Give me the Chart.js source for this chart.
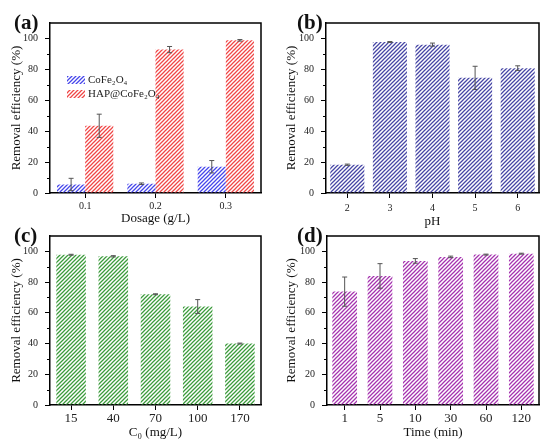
<!DOCTYPE html>
<html lang="en">

<head>
    <meta charset="UTF-8">
    <title>Removal efficiency</title>
    <script src="https://cdn.jsdelivr.net/npm/chart.js"></script>
    <style>
        body {
            margin: 0;
            background: white;
            width: 550px;
            height: 446px;
            position: relative;
            overflow: hidden;
            font-family: 'Liberation Serif', 'DejaVu Serif', serif;
        }

        canvas {
            position: absolute;
        }

        .panel-label {
            position: absolute;
            font-weight: bold;
            font-size: 21px;
            line-height: 1;
            color: #111;
        }
    </style>
</head>

<body>
    <canvas id="chartA" width="275" height="232" style="left:0;top:0"></canvas>
    <canvas id="chartB" width="275" height="232" style="left:275px;top:0"></canvas>
    <canvas id="chartC" width="275" height="223" style="left:0;top:223px"></canvas>
    <canvas id="chartD" width="275" height="223" style="left:275px;top:223px"></canvas>
    <div class="panel-label" style="left:14px;top:12px">(a)</div>
    <div class="panel-label" style="left:297px;top:12px">(b)</div>
    <div class="panel-label" style="left:14px;top:225px">(c)</div>
    <div class="panel-label" style="left:297px;top:225px">(d)</div>
    <script>
        // (a) dosage
        const dosageLabels = ['0.1', '0.2', '0.3'];
        const cofeValues = [5.5, 6, 17];
        const cofeErrors = [4, 0.5, 4];
        const hapValues = [43.5, 92.8, 98.8];
        const hapErrors = [7.5, 2, 0.5];

        // (b) pH
        const phLabels = ['2', '3', '4', '5', '6'];
        const phValues = [18.3, 97.7, 96, 74.5, 80.8];
        const phErrors = [0.4, 0.3, 1, 7.5, 1.5];

        // (c) initial concentration
        const concLabels = ['15', '40', '70', '100', '170'];
        const concValues = [97.8, 96.8, 72.1, 64.1, 40];
        const concErrors = [0.3, 0.4, 0.3, 4.5, 0.3];

        // (d) contact time
        const timeLabels = ['1', '5', '10', '30', '60', '120'];
        const timeValues = [73.8, 84, 93.8, 96.4, 97.9, 98.5];
        const timeErrors = [9.5, 8, 1.5, 0.5, 0.3, 0.3];

        const yTitle = 'Removal efficiency (%)';

        Chart.defaults.font.family = "'Liberation Serif', 'DejaVu Serif', serif";
        Chart.defaults.color = '#222';

        // diagonal hatch fill like the original plot
        function hatch(color) {
            const s = 4;
            const c = document.createElement('canvas');
            c.width = s;
            c.height = s;
            const g = c.getContext('2d');
            g.strokeStyle = color;
            g.lineWidth = 1.25;
            g.beginPath();
            g.moveTo(0, s); g.lineTo(s, 0);
            g.moveTo(-1, 1); g.lineTo(1, -1);
            g.moveTo(s - 1, s + 1); g.lineTo(s + 1, s - 1);
            g.stroke();
            return g.createPattern(c, 'repeat');
        }

        const errorBars = {
            id: 'errorBars',
            afterDatasetsDraw(chart) {
                const ctx = chart.ctx;
                const y = chart.scales.y;
                chart.data.datasets.forEach((ds, i) => {
                    chart.getDatasetMeta(i).data.forEach((bar, j) => {
                        const v = ds.data[j], e = ds.errors[j];
                        const top = y.getPixelForValue(v + e);
                        const bot = y.getPixelForValue(v - e);
                        ctx.save();
                        ctx.strokeStyle = '#555';
                        ctx.lineWidth = 1;
                        ctx.beginPath();
                        ctx.moveTo(bar.x, top); ctx.lineTo(bar.x, bot);
                        ctx.moveTo(bar.x - 2.5, top); ctx.lineTo(bar.x + 2.5, top);
                        ctx.moveTo(bar.x - 2.5, bot); ctx.lineTo(bar.x + 2.5, bot);
                        ctx.stroke();
                        ctx.restore();
                    });
                });
            }
        };

        // box frame + minor y ticks
        const frame = {
            id: 'frame',
            afterDraw(chart) {
                const { ctx, chartArea: a } = chart;
                const y = chart.scales.y;
                ctx.save();
                ctx.strokeStyle = '#000';
                ctx.lineWidth = 1.5;
                ctx.beginPath();
                ctx.moveTo(a.left, a.top); ctx.lineTo(a.right, a.top); ctx.lineTo(a.right, a.bottom);
                ctx.stroke();
                ctx.lineWidth = 1;
                ctx.beginPath();
                for (let v = 10; v < 110; v += 20) {
                    const py = Math.round(y.getPixelForValue(v)) + 0.5;
                    ctx.moveTo(a.left, py); ctx.lineTo(a.left - 3, py);
                }
                ctx.stroke();
                ctx.restore();
            }
        };

        // small legend inside panel (a)
        const innerLegend = {
            id: 'innerLegend',
            afterDraw(chart) {
                const ctx = chart.ctx;
                ctx.save();
                ctx.font = "11px 'Liberation Serif', 'DejaVu Serif', serif";
                ctx.textBaseline = 'middle';
                chart.data.datasets.forEach((ds, i) => {
                    const cy = 80 + i * 14;
                    ctx.fillStyle = ds.backgroundColor;
                    ctx.fillRect(67, cy - 4, 18, 8);
                    ctx.fillStyle = '#222';
                    ctx.fillText(ds.label, 88, cy);
                });
                ctx.restore();
            }
        };

        function makeChart(id, labels, datasets, opt) {
            const axisGrid = {
                drawOnChartArea: false,
                drawTicks: true,
                tickLength: 5,
                offset: false,
                color: '#000',
                tickWidth: 1
            };
            return new Chart(document.getElementById(id), {
                type: 'bar',
                data: { labels: labels, datasets: datasets },
                options: {
                    responsive: false,
                    animation: false,
                    layout: { padding: { top: opt.top, right: opt.right, left: 0, bottom: 0 } },
                    plugins: {
                        legend: { display: false },
                        tooltip: { enabled: false }
                    },
                    scales: {
                        x: {
                            grid: axisGrid,
                            border: { color: '#000', width: 1.5 },
                            ticks: { font: { size: opt.xFont }, color: '#222', padding: opt.xPad, maxRotation: 0 },
                            title: {
                                display: true,
                                text: opt.xTitle,
                                color: '#111',
                                font: { size: 13 },
                                padding: { top: 0, bottom: opt.xTitlePad }
                            },
                            afterFit(s) { s.height = opt.xh; }
                        },
                        y: {
                            min: 0,
                            max: 110,
                            grid: axisGrid,
                            border: { color: '#000', width: 1.5 },
                            ticks: { stepSize: 20, font: { size: 10 }, color: '#222', padding: 7 },
                            afterBuildTicks(s) { s.ticks = s.ticks.filter(t => t.value <= 100); },
                            title: {
                                display: true,
                                text: yTitle,
                                color: '#111',
                                font: { size: 13 },
                                padding: { top: 9, bottom: 0 }
                            },
                            afterFit(s) { s.width = opt.yw; }
                        }
                    }
                },
                plugins: opt.plugins
            });
        }

        makeChart('chartA', dosageLabels, [
            {
                label: 'CoFe₂O₄',
                data: cofeValues,
                errors: cofeErrors,
                backgroundColor: hatch('rgb(70,70,235)'),
                categoryPercentage: 0.8,
                barPercentage: 1
            },
            {
                label: 'HAP@CoFe₂O₄',
                data: hapValues,
                errors: hapErrors,
                backgroundColor: hatch('rgb(240,70,70)'),
                categoryPercentage: 0.8,
                barPercentage: 1
            }
        ], { top: 23, right: 14, yw: 50, xh: 39, xTitle: 'Dosage (g/L)', xFont: 10, xPad: 2, xTitlePad: 6, plugins: [errorBars, frame, innerLegend] });

        makeChart('chartB', phLabels, [{
            label: 'pH',
            data: phValues,
            errors: phErrors,
            backgroundColor: hatch('rgb(70,70,165)'),
            categoryPercentage: 1,
            barPercentage: 0.8
        }], { top: 23, right: 11, yw: 51, xh: 39, xTitle: 'pH', xFont: 10, xPad: 4, xTitlePad: 3, plugins: [errorBars, frame] });

        makeChart('chartC', concLabels, [{
            label: 'C0',
            data: concValues,
            errors: concErrors,
            backgroundColor: hatch('rgb(60,155,60)'),
            categoryPercentage: 1,
            barPercentage: 0.7
        }], { top: 13, right: 14, yw: 50, xh: 41, xTitle: 'C₀ (mg/L)', xFont: 13, xPad: 1, xTitlePad: 6, plugins: [errorBars, frame] });

        makeChart('chartD', timeLabels, [{
            label: 'Time',
            data: timeValues,
            errors: timeErrors,
            backgroundColor: hatch('rgb(165,50,175)'),
            categoryPercentage: 1,
            barPercentage: 0.7
        }], { top: 13, right: 11, yw: 52, xh: 41, xTitle: 'Time (min)', xFont: 13, xPad: 1, xTitlePad: 6, plugins: [errorBars, frame] });
    </script>
</body>

</html>
